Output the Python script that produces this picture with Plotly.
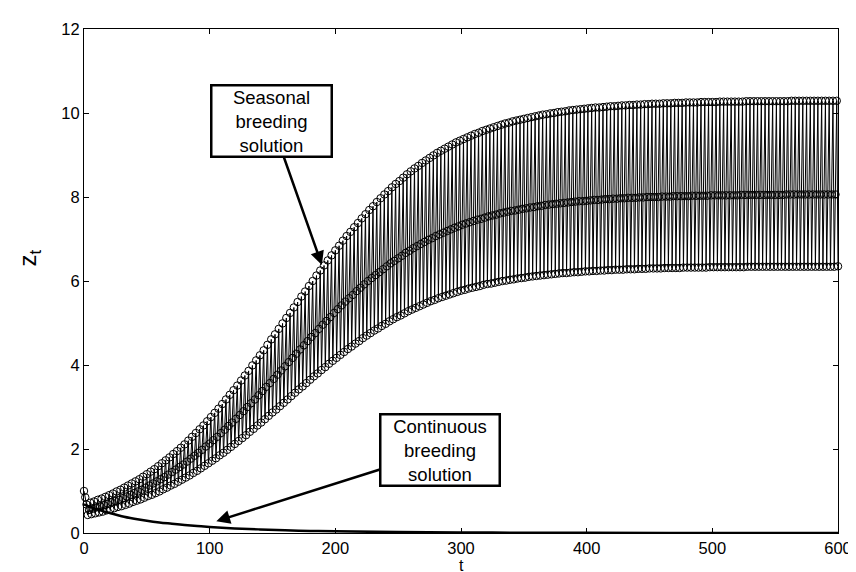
import plotly.graph_objects as go

# ---- Seasonal breeding solution z_t (period-3 cycle: lower, middle, upper) ----
# values at t = 3m (m = 0..200)
lower = [1.00, 0.43, 0.45, 0.47, 0.49, 0.51, 0.54, 0.56, 0.59, 0.62,
         0.64, 0.67, 0.70, 0.74, 0.77, 0.80, 0.84, 0.88, 0.91, 0.95,
         0.99, 1.04, 1.08, 1.13, 1.17, 1.22, 1.27, 1.32, 1.37, 1.43,
         1.48, 1.54, 1.60, 1.66, 1.72, 1.78, 1.85, 1.91, 1.98, 2.05,
         2.12, 2.19, 2.26, 2.33, 2.41, 2.48, 2.56, 2.63, 2.71, 2.79,
         2.87, 2.94, 3.02, 3.10, 3.18, 3.26, 3.34, 3.42, 3.49, 3.57,
         3.65, 3.73, 3.80, 3.88, 3.95, 4.03, 4.10, 4.17, 4.24, 4.31,
         4.38, 4.44, 4.51, 4.57, 4.64, 4.70, 4.76, 4.82, 4.87, 4.93,
         4.98, 5.04, 5.09, 5.14, 5.18, 5.23, 5.28, 5.32, 5.36, 5.40,
         5.44, 5.48, 5.52, 5.55, 5.59, 5.62, 5.65, 5.68, 5.71, 5.74,
         5.77, 5.79, 5.82, 5.84, 5.86, 5.88, 5.91, 5.93, 5.94, 5.96,
         5.98, 6.00, 6.01, 6.03, 6.04, 6.06, 6.07, 6.08, 6.10, 6.11,
         6.12, 6.13, 6.14, 6.15, 6.16, 6.17, 6.18, 6.19, 6.19, 6.20,
         6.21, 6.21, 6.22, 6.23, 6.23, 6.24, 6.24, 6.25, 6.25, 6.26,
         6.26, 6.27, 6.27, 6.27, 6.28, 6.28, 6.28, 6.29, 6.29, 6.29,
         6.30, 6.30, 6.30, 6.30, 6.31, 6.31, 6.31, 6.31, 6.31, 6.32,
         6.32, 6.32, 6.32, 6.32, 6.32, 6.32, 6.33, 6.33, 6.33, 6.33,
         6.33, 6.33, 6.33, 6.33, 6.33, 6.33, 6.34, 6.34, 6.34, 6.34,
         6.34, 6.34, 6.34, 6.34, 6.34, 6.34, 6.34, 6.34, 6.34, 6.34,
         6.34, 6.34, 6.34, 6.34, 6.34, 6.34, 6.34, 6.34, 6.34, 6.34,
         6.35]
# values at t = 3m+1 (m = 0..199)
middle = [0.85, 0.55, 0.58, 0.61, 0.63, 0.66, 0.69, 0.73, 0.76, 0.79,
          0.83, 0.87, 0.91, 0.95, 0.99, 1.03, 1.08, 1.13, 1.18, 1.23,
          1.28, 1.33, 1.39, 1.45, 1.51, 1.57, 1.63, 1.70, 1.77, 1.84,
          1.91, 1.98, 2.06, 2.13, 2.21, 2.29, 2.38, 2.46, 2.55, 2.63,
          2.72, 2.81, 2.90, 3.00, 3.09, 3.18, 3.28, 3.38, 3.48, 3.57,
          3.67, 3.77, 3.87, 3.97, 4.07, 4.17, 4.27, 4.37, 4.47, 4.57,
          4.67, 4.76, 4.86, 4.96, 5.05, 5.14, 5.24, 5.33, 5.42, 5.51,
          5.59, 5.67, 5.76, 5.84, 5.92, 6.00, 6.07, 6.14, 6.21, 6.28,
          6.35, 6.42, 6.48, 6.54, 6.60, 6.67, 6.72, 6.78, 6.83, 6.88,
          6.93, 6.98, 7.02, 7.07, 7.11, 7.15, 7.19, 7.23, 7.27, 7.30,
          7.34, 7.37, 7.40, 7.43, 7.46, 7.48, 7.51, 7.54, 7.56, 7.58,
          7.61, 7.63, 7.65, 7.67, 7.68, 7.70, 7.72, 7.73, 7.75, 7.76,
          7.78, 7.79, 7.81, 7.82, 7.83, 7.84, 7.85, 7.86, 7.87, 7.88,
          7.89, 7.90, 7.90, 7.91, 7.92, 7.93, 7.93, 7.94, 7.95, 7.95,
          7.96, 7.96, 7.97, 7.97, 7.98, 7.98, 7.98, 7.99, 7.99, 8.00,
          8.00, 8.00, 8.00, 8.01, 8.01, 8.01, 8.02, 8.02, 8.02, 8.02,
          8.02, 8.03, 8.03, 8.03, 8.03, 8.03, 8.04, 8.04, 8.04, 8.04,
          8.04, 8.04, 8.04, 8.04, 8.05, 8.05, 8.05, 8.05, 8.05, 8.05,
          8.05, 8.05, 8.05, 8.05, 8.05, 8.05, 8.06, 8.06, 8.06, 8.06,
          8.06, 8.06, 8.06, 8.06, 8.06, 8.06, 8.06, 8.06, 8.06, 8.06]
# values at t = 3m+2 (m = 0..199)
upper = [0.68, 0.72, 0.75, 0.79, 0.82, 0.86, 0.90, 0.94, 0.99, 1.03,
         1.08, 1.13, 1.18, 1.23, 1.28, 1.34, 1.40, 1.46, 1.52, 1.59,
         1.66, 1.73, 1.80, 1.88, 1.95, 2.03, 2.11, 2.20, 2.29, 2.38,
         2.47, 2.56, 2.66, 2.76, 2.86, 2.96, 3.07, 3.18, 3.29, 3.40,
         3.51, 3.63, 3.75, 3.86, 3.99, 4.11, 4.23, 4.35, 4.48, 4.61,
         4.73, 4.86, 4.99, 5.12, 5.24, 5.37, 5.50, 5.63, 5.75, 5.88,
         6.00, 6.13, 6.25, 6.37, 6.49, 6.61, 6.73, 6.84, 6.96, 7.07,
         7.17, 7.28, 7.38, 7.49, 7.59, 7.69, 7.78, 7.88, 7.97, 8.06,
         8.14, 8.23, 8.31, 8.38, 8.46, 8.54, 8.61, 8.68, 8.74, 8.81,
         8.87, 8.93, 8.99, 9.05, 9.10, 9.15, 9.20, 9.25, 9.30, 9.34,
         9.38, 9.42, 9.46, 9.50, 9.53, 9.57, 9.60, 9.63, 9.66, 9.69,
         9.72, 9.75, 9.77, 9.80, 9.82, 9.84, 9.86, 9.88, 9.90, 9.92,
         9.94, 9.96, 9.97, 9.99, 10.00, 10.02, 10.03, 10.04, 10.06, 10.07,
         10.08, 10.09, 10.10, 10.11, 10.12, 10.13, 10.13, 10.14, 10.15, 10.16,
         10.16, 10.17, 10.18, 10.18, 10.19, 10.19, 10.20, 10.20, 10.21, 10.21,
         10.22, 10.22, 10.22, 10.23, 10.23, 10.23, 10.24, 10.24, 10.24, 10.25,
         10.25, 10.25, 10.25, 10.26, 10.26, 10.26, 10.26, 10.26, 10.27, 10.27,
         10.27, 10.27, 10.27, 10.27, 10.27, 10.28, 10.28, 10.28, 10.28, 10.28,
         10.28, 10.28, 10.28, 10.28, 10.28, 10.28, 10.28, 10.29, 10.29, 10.29,
         10.29, 10.29, 10.29, 10.29, 10.29, 10.29, 10.29, 10.29, 10.29, 10.29]

# ---- Continuous breeding solution ----
cont_t = [0, 5, 10, 15, 20, 30, 40, 50, 60, 70, 80, 90, 100, 120, 140, 160,
          180, 200, 250, 300, 350, 400, 500, 600]
cont_z = [0.68, 0.62, 0.57, 0.52, 0.48, 0.40, 0.34, 0.29, 0.25, 0.22, 0.19,
          0.165, 0.145, 0.11, 0.085, 0.065, 0.05, 0.04, 0.022, 0.012, 0.007,
          0.004, 0.001, 0.0]

x_ticks = [0, 100, 200, 300, 400, 500, 600]
y_ticks = [0, 2, 4, 6, 8, 10, 12]

assert len(lower) == 201 and len(middle) == 200 and len(upper) == 200

seas_z = []
for m in range(200):
    seas_z += [lower[m], middle[m], upper[m]]
seas_z.append(lower[200])
seas_t = list(range(len(seas_z)))

FONT = "Liberation Sans, Arial, Helvetica, sans-serif"

fig = go.Figure()
fig.add_trace(go.Scatter(
    x=seas_t, y=seas_z, mode="lines+markers",
    line=dict(color="black", width=1),
    marker=dict(symbol="circle-open", size=7.5, color="black", line=dict(width=1)),
    cliponaxis=False, showlegend=False))
fig.add_trace(go.Scatter(
    x=cont_t, y=cont_z, mode="lines", line=dict(color="black", width=2.5, shape="spline"),
    showlegend=False))

axis_common = dict(showgrid=False, zeroline=False, showline=True, linecolor="black",
                   linewidth=1, mirror="ticks", ticks="inside", ticklen=5,
                   tickcolor="black", tickwidth=1,
                   tickfont=dict(family=FONT, size=16.5, color="black"))
fig.update_xaxes(range=[0, 600], tickvals=x_ticks, ticktext=[str(v) for v in x_ticks], **axis_common)
fig.update_yaxes(range=[0, 12], tickvals=y_ticks, ticktext=[str(v) for v in y_ticks], **axis_common)

# plot area in pixels: x 76..840, y 14..525
def px_to_paper(px, py):
    return (px - 76) / 764, (525 - py) / 511

annots = []
box_font = dict(family=FONT, size=18.5, color="black")
annots.append(dict(x=189.3, y=6.38, ax=148.9, ay=9.81, xref="x", yref="y", axref="x", ayref="y",
                   text="Seasonal<br>breeding<br>solution", font=box_font,
                   bordercolor="black", borderwidth=2.5, borderpad=0, bgcolor="white",
                   width=118, align="center",
                   showarrow=True, arrowhead=2, arrowsize=1.1, arrowwidth=2.5,
                   arrowcolor="black", standoff=0, startstandoff=0))
annots.append(dict(x=105.3, y=0.28, ax=283.6, ay=1.97, xref="x", yref="y", axref="x", ayref="y",
                   text="Continuous<br>breeding<br>solution", font=box_font,
                   bordercolor="black", borderwidth=2.5, borderpad=0, bgcolor="white",
                   width=117, align="center",
                   showarrow=True, arrowhead=2, arrowsize=1.1, arrowwidth=2.5,
                   arrowcolor="black", standoff=0, startstandoff=0))
tx, ty = px_to_paper(458, 557.5)
annots.append(dict(x=tx, y=ty, xref="paper", yref="paper", text="t", showarrow=False,
                   xanchor="center", yanchor="middle", borderpad=0,
                   font=dict(family=FONT, size=16, color="black")))
zx, zy = px_to_paper(21, 246)
annots.append(dict(x=zx, y=zy, xref="paper", yref="paper", text="z<sub>t</sub>", showarrow=False,
                   xanchor="center", yanchor="middle", textangle=-90,
                   font=dict(family=FONT, size=24, color="black")))

fig.update_layout(
    width=856, height=572, autosize=False,
    margin=dict(l=76, r=16, t=14, b=47),
    paper_bgcolor="white", plot_bgcolor="white",
    annotations=annots,
    font=dict(family=FONT, color="black"),
)
fig.write_html("out.html")
